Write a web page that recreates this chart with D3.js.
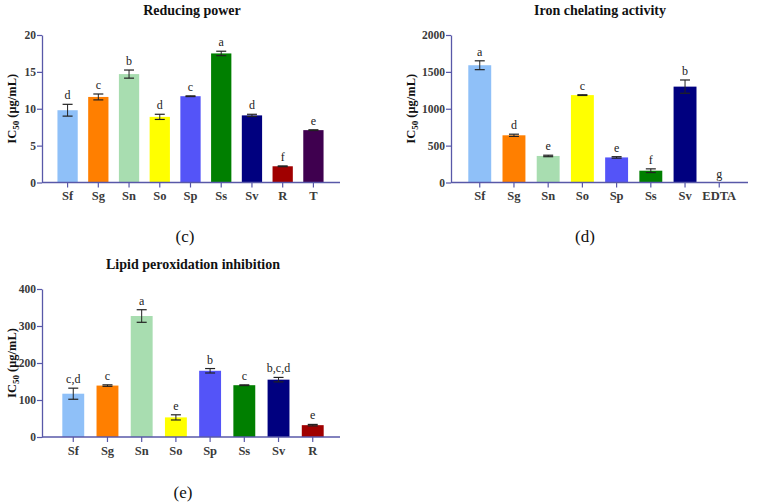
<!DOCTYPE html>
<html><head><meta charset="utf-8">
<script src="https://cdn.jsdelivr.net/npm/d3@7"></script>
<style>
body{margin:0;background:#fff;}
svg{display:block;font-family:"Liberation Serif","DejaVu Serif",serif;}
</style></head>
<body>
<svg id="chart" width="757" height="502"></svg>
<script>
// ---- Data ----
const catsC = ["Sf","Sg","Sn","So","Sp","Ss","Sv","R","T"];
const valsC = [9.8, 11.6, 14.7, 8.9, 11.7, 17.5, 9.1, 2.2, 7.1];
const errC  = [0.8, 0.4, 0.55, 0.35, 0.05, 0.3, 0.15, 0.05, 0.05];
const letC  = ["d","c","b","d","c","a","d","f","e"];
const ticksC = [0,5,10,15,20];

const catsD = ["Sf","Sg","Sn","So","Sp","Ss","Sv","EDTA"];
const valsD = [1590, 640, 360, 1185, 340, 160, 1300, 0];
const errD  = [60, 15, 10, 5, 10, 25, 90, 0];
const letD  = ["a","d","e","c","e","f","b","g"];
const ticksD = [0,500,1000,1500,2000];

const catsE = ["Sf","Sg","Sn","So","Sp","Ss","Sv","R"];
const valsE = [117, 139, 327, 53, 179, 140, 155, 32];
const errE  = [15, 2, 17, 7, 6, 1, 6, 2];
const letE  = ["c,d","c","a","e","b","c","b,c,d","e"];
const ticksE = [0,100,200,300,400];

const colorMap = {
  Sf:"#8fc0f8", Sg:"#ff7f00", Sn:"#a8ddb0", So:"#ffff00", Sp:"#5454f8",
  Ss:"#007f00", Sv:"#00007f", R:"#a00000", T:"#3f004f", EDTA:"#888888"
};

const svg = d3.select("#chart");
const axisColor = "#5858a8";
const textColor = "#3a3a3a";

function panel(o){
  const g = svg.append("g");
  const x = d3.scaleBand().domain(o.cats).range([o.bx0, o.bx1]).padding(o.pad);
  const y = d3.scaleLinear().domain([0, o.ymax]).range([o.bottom, o.top]);

  // title
  g.append("text").attr("x", o.titleX).attr("y", o.titleY)
    .attr("text-anchor","middle").attr("font-weight","bold").attr("font-size",14)
    .attr("fill","#111").text(o.title);

  // bars
  g.selectAll("rect.bar").data(o.cats).join("rect")
    .attr("x", d => x(d)).attr("width", x.bandwidth())
    .attr("y", (d,i) => y(o.vals[i])).attr("height", (d,i) => o.bottom - y(o.vals[i]))
    .attr("fill", d => colorMap[d]);

  // error bars
  const cap = 5;
  o.cats.forEach((d,i) => {
    if (o.errs[i] <= 0) return;
    const cx = x(d) + x.bandwidth()/2;
    const y1 = y(o.vals[i] + o.errs[i]), y2 = y(o.vals[i] - o.errs[i]);
    g.append("line").attr("x1",cx).attr("x2",cx).attr("y1",y1).attr("y2",y2)
      .attr("stroke","#222").attr("stroke-width",1);
    [y1,y2].forEach(yy => g.append("line").attr("x1",cx-cap).attr("x2",cx+cap)
      .attr("y1",yy).attr("y2",yy).attr("stroke","#222").attr("stroke-width",1.2));
  });

  // letters
  g.selectAll("text.let").data(o.cats).join("text")
    .attr("x", d => x(d) + x.bandwidth()/2)
    .attr("y", (d,i) => y(o.vals[i] + o.errs[i]) - 5)
    .attr("text-anchor","middle").attr("font-size",12).attr("fill","#222")
    .text((d,i) => o.lets[i]);

  // y axis
  const ya = g.append("g").attr("transform",`translate(${o.left},0)`)
    .call(d3.axisLeft(y).tickValues(o.ticks).tickFormat(d3.format("d")).tickSize(5).tickSizeOuter(0));
  ya.select(".domain").attr("stroke",axisColor).attr("stroke-width",1.3);
  ya.selectAll(".tick line").attr("stroke",axisColor).attr("stroke-width",1.2);
  ya.selectAll(".tick text").attr("font-family","Liberation Serif, serif")
    .attr("font-size",11.5).attr("font-weight","bold").attr("fill",textColor).attr("x",-6);

  // x axis
  const xa = g.append("g").attr("transform",`translate(0,${o.bottom})`)
    .call(d3.axisBottom(x).tickSize(5).tickSizeOuter(0));
  xa.select(".domain").attr("d", `M${o.left},0H${o.right}`).attr("stroke",axisColor).attr("stroke-width",1.3);
  xa.selectAll(".tick line").attr("stroke",axisColor).attr("stroke-width",1.2);
  xa.selectAll(".tick text").attr("font-family","Liberation Serif, serif")
    .attr("font-size",12.5).attr("font-weight","bold").attr("fill",textColor).attr("y",9);

  // y label
  const yl = g.append("text").attr("transform",`translate(${o.ylabX},${(o.top+o.bottom)/2}) rotate(-90)`)
    .attr("text-anchor","middle").attr("font-size",12.5).attr("font-weight","bold").attr("fill","#111");
  yl.append("tspan").text("IC");
  yl.append("tspan").attr("font-size",9).attr("dy",3).text("50");
  yl.append("tspan").attr("dy",-3).text(" (μg/mL)");

  // panel label
  g.append("text").attr("x",o.labX).attr("y",o.labY).attr("text-anchor","middle")
    .attr("font-size",17).attr("fill","#111").text(o.lab);
}

panel({cats:catsC, vals:valsC, errs:errC, lets:letC, ticks:ticksC, ymax:20,
  left:42, right:340, top:35, bottom:182.5, bx0:47, bx1:334, pad:0.34,
  title:"Reducing power", titleX:192, titleY:15, ylabX:16, lab:"(c)", labX:185, labY:242});

panel({cats:catsD, vals:valsD, errs:errD, lets:letD, ticks:ticksD, ymax:2000,
  left:451, right:748, top:35, bottom:182.5, bx0:457, bx1:742, pad:0.33,
  title:"Iron chelating activity", titleX:600, titleY:15, ylabX:415, lab:"(d)", labX:585, labY:242});

panel({cats:catsE, vals:valsE, errs:errE, lets:letE, ticks:ticksE, ymax:400,
  left:42, right:340, top:289, bottom:437, bx0:50, bx1:336, pad:0.36,
  title:"Lipid peroxidation inhibition", titleX:193, titleY:269, ylabX:16, lab:"(e)", labX:183, labY:498});
</script>
</body></html>
